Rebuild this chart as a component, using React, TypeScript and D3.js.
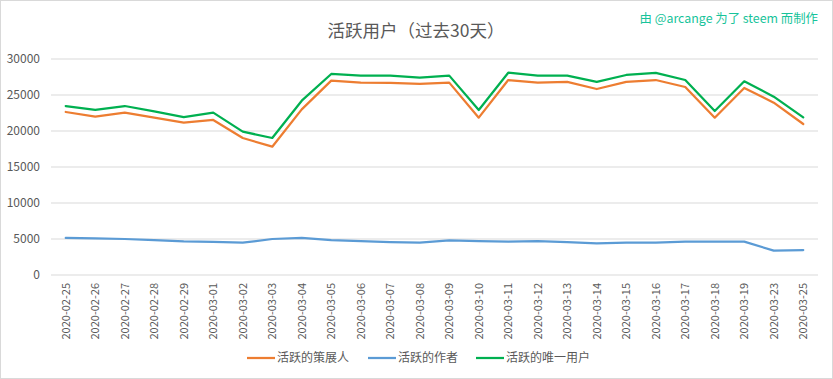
import React from "react";
import * as d3 from "d3";

const categories = [
  "2020-02-25", "2020-02-26", "2020-02-27", "2020-02-28", "2020-02-29",
  "2020-03-01", "2020-03-02", "2020-03-03", "2020-03-04", "2020-03-05",
  "2020-03-06", "2020-03-07", "2020-03-08", "2020-03-09", "2020-03-10",
  "2020-03-11", "2020-03-12", "2020-03-13", "2020-03-14", "2020-03-15",
  "2020-03-16", "2020-03-17", "2020-03-18", "2020-03-19", "2020-03-23",
  "2020-03-25",
];

const curators = [
  22640, 21990, 22550, 21850, 21160, 21530, 19030, 17820, 23010, 26990,
  26720, 26670, 26530, 26720, 21850, 27080, 26720, 26810, 25830, 26810,
  27080, 26110, 21850, 25970, 23930, 20970,
];

const authors = [
  5140, 5090, 5000, 4860, 4670, 4600, 4490, 5000, 5140, 4860,
  4720, 4580, 4490, 4810, 4720, 4630, 4720, 4580, 4400, 4490,
  4490, 4630, 4630, 4630, 3380, 3470,
];

const uniqueUsers = [
  23470, 22920, 23470, 22730, 21940, 22550, 19910, 19030, 24210, 27920,
  27690, 27690, 27410, 27690, 22920, 28100, 27690, 27690, 26810, 27780,
  28060, 27080, 22780, 26900, 24770, 21900,
];

const yTicks = [0, 5000, 10000, 15000, 20000, 25000, 30000];

const seriesNames = ["活跃的策展人", "活跃的作者", "活跃的唯一用户"];
const seriesColors = ["#ED7D31", "#5B9BD5", "#00B050"];
const seriesData = [curators, authors, uniqueUsers];

const titleText = "活跃用户（过去30天）";

export default function App() {
  const W = 833;
  const H = 379;
  const font = "'Noto Sans CJK SC', 'Noto Sans', sans-serif";
  const x = d3.scaleBand<string>().domain(categories).range([51, 818]).padding(0);
  const y = d3.scaleLinear().domain([0, 30000]).range([275, 59]);
  const cx = (c: string) => (x(c) as number) + x.bandwidth() / 2;

  const line = d3
    .line<number>()
    .x((_, i) => cx(categories[i]))
    .y((d) => y(d));

  const legendX = [247, 368, 476];

  return (
    <svg
      width={W}
      height={H}
      style={{ position: "absolute", left: 0, top: 0, background: "#fff" }}
      fontFamily={font}
    >
      <rect x={0.5} y={0.5} width={W - 1} height={H - 1} fill="#fff" stroke="#d9d9d9" />
      <text x={416} y={37} textAnchor="middle" fontSize={17.5} fill="#595959">
        {titleText}
      </text>
      <text x={818} y={23} textAnchor="end" fontSize={12.4} fill="#17c39a">
        由 @arcange 为了 steem 而制作
      </text>
      {yTicks.map((t) => (
        <g key={t}>
          <line x1={51} x2={818} y1={y(t)} y2={y(t)} stroke="#d9d9d9" strokeWidth={1} />
          <text x={40} y={y(t) + 4} textAnchor="end" fontSize={12} fill="#595959">
            {t}
          </text>
        </g>
      ))}
      {categories.map((c) => (
        <text
          key={c}
          transform={`translate(${cx(c) + 4},283) rotate(-90)`}
          textAnchor="end"
          fontSize={11}
          fill="#595959"
        >
          {c}
        </text>
      ))}
      {seriesData.map((s, k) => (
        <path
          key={k}
          d={line(s) as string}
          fill="none"
          stroke={seriesColors[k]}
          strokeWidth={2.25}
          strokeLinejoin="round"
          strokeLinecap="round"
        />
      ))}
      {seriesNames.map((n, k) => (
        <g key={n}>
          <line
            x1={legendX[k]}
            x2={legendX[k] + 28}
            y1={358}
            y2={358}
            stroke={seriesColors[k]}
            strokeWidth={2.25}
          />
          <text x={legendX[k] + 30} y={362} fontSize={12} fill="#595959">
            {n}
          </text>
        </g>
      ))}
    </svg>
  );
}
